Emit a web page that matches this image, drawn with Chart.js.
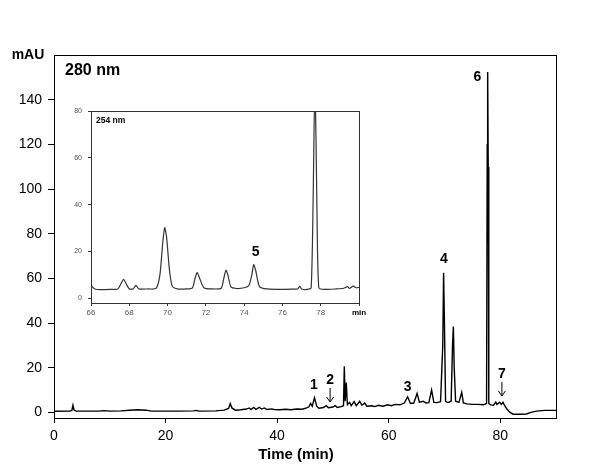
<!DOCTYPE html>
<html>
<head>
<meta charset="utf-8">
<script src="https://cdn.jsdelivr.net/npm/chart.js@4"></script>
<style>
  body { margin: 0; background: #fff; }
  #wrap { position: relative; width: 606px; height: 469px; }
  #inset { position: absolute; left: 60px; top: 95px; }
</style>
</head>
<body>
<div id="wrap">
  <canvas id="main" width="606" height="469"></canvas>
  <canvas id="inset" width="310" height="225"></canvas>
</div>
<script>
/* data */

// 280 nm trace (min, mAU)
var mainTime = [0, 2.8, 3.2, 3.4, 3.6, 4, 8, 9, 10, 12, 13.5, 15, 16.5, 17.5, 22, 25, 25.5, 26, 29, 30.5,
  31.3, 31.6, 31.9, 32.5, 33.5, 34.5, 35, 35.3, 35.8, 36.2, 36.8, 37.2, 37.7, 38.2, 39, 39.5, 40.5, 41.5, 42.5, 43.5,
  44.5, 45.3, 45.7, 46, 46.3, 46.7, 47.1, 47.5, 48.3, 48.8, 49.2, 50, 50.4, 50.8, 51.5, 51.9, 52.05, 52.2, 52.4, 52.6,
  53, 53.3, 53.8, 54.2, 54.8, 55.2, 55.7, 56.1, 57, 57.5, 58.2, 59, 59.8, 60.5, 61.2, 62, 62.8, 63.4, 63.9, 64.5,
  65.1, 65.5, 66.2, 66.7, 67.2, 67.7, 68.1, 68.7, 69.3, 69.7, 69.85, 70, 70.2, 70.6, 71.2, 71.45, 71.6, 71.75, 72, 72.6,
  73.1, 73.4, 74, 75, 76, 77, 77.55, 77.67, 77.75, 77.85, 77.95, 78.3, 78.8, 79.2, 79.4, 79.9, 80.2, 80.5, 80.8, 81.2,
  81.7, 82.3, 83.5, 84.7, 85.5, 86.5, 88, 90];
var mainAbs = [0.5, 0.6, 0.9, 3.2, 1.0, 0.6, 0.6, 0.8, 0.6, 0.7, 1.0, 1.2, 1.0, 0.6, 0.6, 0.7, 0.9, 0.6, 0.7, 1.0,
  1.8, 4.0, 2.0, 1.0, 1.2, 1.5, 2.0, 1.3, 2.2, 1.4, 2.3, 1.5, 2.0, 1.3, 1.6, 1.3, 1.2, 1.4, 1.2, 1.5,
  1.4, 2.0, 2.5, 4.0, 2.8, 6.6, 2.8, 1.9, 2.2, 3.0, 2.1, 2.4, 3.0, 2.2, 2.6, 3.0, 20.7, 5.0, 13.4, 3.5,
  4.5, 3.0, 4.8, 3.0, 5.0, 3.2, 4.2, 2.8, 3.0, 2.6, 3.2, 2.8, 3.4, 3.0, 3.6, 3.4, 4.2, 7.0, 4.0, 4.2,
  8.5, 4.6, 5.0, 4.2, 4.4, 10.0, 4.5, 4.4, 4.8, 30, 62.5, 40, 5, 4.4, 5, 30, 38.5, 20, 5, 4.5,
  9.0, 4.2, 3.8, 3.6, 3.6, 3.4, 4, 120, 152.4, 110, 4, 3.4, 3.2, 4.6, 3.6, 4.6, 3.6, 4.5, 3.0, 1.5,
  0.1, -0.8, -0.8, -0.7, 0.0, 0.6, 0.9, 0.9];

// 254 nm trace, inset (min, mAU)
var insetTime = [66, 66.2, 66.5, 67, 67.4, 67.55, 67.7, 67.85, 68, 68.2, 68.35, 68.5, 69, 69.4, 69.6, 69.75, 69.85, 69.95, 70.1, 70.25,
  70.5, 71, 71.3, 71.45, 71.55, 71.7, 71.9, 72.3, 72.8, 72.95, 73.05, 73.15, 73.3, 73.6, 74, 74.25, 74.4, 74.5, 74.6, 74.8,
  75.2, 76, 76.5, 76.8, 76.9, 77, 77.3, 77.5, 77.6, 77.7, 77.8, 77.9, 78.2, 78.8, 79.2, 79.4, 79.5, 79.7, 79.85, 80];
var insetAbs = [5.5, 4.0, 3.7, 3.8, 4.0, 6.0, 8.1, 6.0, 4.0, 4.0, 5.5, 4.0, 4.0, 4.2, 10, 24, 30.2, 26, 12, 5,
  4.0, 4.0, 4.5, 9, 11, 8, 4.5, 4.0, 4.3, 9, 12, 10, 5, 4.2, 4.5, 5.5, 10, 14.4, 12, 5,
  4.0, 3.8, 3.9, 4.0, 5.1, 4.0, 3.8, 4.5, 40, 95, 40, 4.5, 3.8, 4.0, 4.3, 5.0, 4.2, 5.2, 4.5, 4.7];

var mainTicksX = [0, 20, 40, 60, 80];
var mainTicksY = [0, 20, 40, 60, 80, 100, 120, 140];
var insetTicksX = [66, 68, 70, 72, 74, 76, 78, 80];
var insetTicksY = [0, 20, 40, 60, 80];

// peak numbers: label position (min, mAU), arrow or not
var peakNames = ["1", "2", "3", "4", "6", "7"];
var peakLabelTime = [46.6, 49.5, 63.4, 69.9, 75.9, 80.3];
var peakLabelAbs = [12.3, 14.5, 11.5, 68.7, 150.1, 17.2];
var peakArrow = [false, true, false, false, false, true];

var FONT = "'Liberation Sans', Arial, sans-serif";

const toPoints = (xs, ys) => xs.map((x, i) => ({ x: x, y: ys[i] }));

/* main chart */

const mainDecor = {
  id: "mainDecor",
  afterDraw(chart) {
    const ctx = chart.ctx;
    const a = chart.chartArea;
    const sx = chart.scales.x, sy = chart.scales.y;
    ctx.save();
    ctx.strokeStyle = "#000";
    ctx.lineWidth = 1;
    ctx.strokeRect(Math.round(a.left) + 0.5, Math.round(a.top) + 0.5,
      Math.round(a.right - a.left), Math.round(a.bottom - a.top));

    ctx.fillStyle = "#000";
    ctx.textBaseline = "middle";
    ctx.textAlign = "center";
    ctx.font = "bold 14px " + FONT;
    ctx.fillText("mAU", 28, 55);
    ctx.font = "bold 15px " + FONT;
    ctx.fillText("Time (min)", 296, 455);
    ctx.textAlign = "left";
    ctx.font = "bold 16px " + FONT;
    ctx.fillText("280 nm", 65, 71);

    ctx.textAlign = "center";
    ctx.font = "bold 14px " + FONT;
    peakNames.forEach((name, i) => {
      const x = sx.getPixelForValue(peakLabelTime[i]);
      const y = sy.getPixelForValue(peakLabelAbs[i]);
      ctx.fillText(name, x, y);
      if (peakArrow[i]) {
        const y1 = y + 8, y2 = y + 22;
        ctx.beginPath();
        ctx.moveTo(x, y1);
        ctx.lineTo(x, y2);
        ctx.moveTo(x - 3.5, y2 - 5);
        ctx.lineTo(x, y2);
        ctx.lineTo(x + 3.5, y2 - 5);
        ctx.stroke();
      }
    });
    ctx.restore();
  }
};

new Chart(document.getElementById("main"), {
  type: "line",
  data: {
    datasets: [{
      data: toPoints(mainTime, mainAbs),
      borderColor: "#000",
      borderWidth: 1.4,
      pointRadius: 0,
      tension: 0
    }]
  },
  options: {
    responsive: false,
    devicePixelRatio: 1,
    animation: false,
    events: [],
    layout: { padding: { top: 55, right: 50, left: 0, bottom: 0 } },
    plugins: { legend: { display: false }, tooltip: { enabled: false } },
    scales: {
      x: {
        type: "linear",
        min: 0,
        max: 90,
        afterBuildTicks: (s) => { s.ticks = mainTicksX.map(v => ({ value: v })); },
        afterFit: (s) => { s.height = 51; },
        border: { display: false },
        grid: { drawOnChartArea: false, drawTicks: true, tickLength: 5, color: "#000" },
        ticks: { color: "#000", padding: 5, maxRotation: 0, font: { family: FONT, size: 14 } }
      },
      y: {
        min: -2.5,
        max: 160,
        afterBuildTicks: (s) => { s.ticks = mainTicksY.map(v => ({ value: v })); },
        afterFit: (s) => { s.width = 54; },
        border: { display: false },
        grid: { drawOnChartArea: false, drawTicks: true, tickLength: 6, color: "#000" },
        ticks: { color: "#000", padding: 6, font: { family: FONT, size: 14 } }
      }
    }
  },
  plugins: [mainDecor]
});

/* inset 254 nm */

const insetDecor = {
  id: "insetDecor",
  afterDraw(chart) {
    const ctx = chart.ctx;
    const a = chart.chartArea;
    const sx = chart.scales.x, sy = chart.scales.y;
    ctx.save();
    ctx.strokeStyle = "#333";
    ctx.lineWidth = 1;
    ctx.strokeRect(Math.round(a.left) + 0.5, Math.round(a.top) + 0.5,
      Math.round(a.right - a.left), Math.round(a.bottom - a.top));
    ctx.fillStyle = "#000";
    ctx.textBaseline = "middle";
    ctx.textAlign = "left";
    ctx.font = "bold 8.5px " + FONT;
    ctx.fillText("254 nm", a.left + 5, a.top + 10);
    ctx.textAlign = "center";
    ctx.font = "bold 14px " + FONT;
    ctx.fillText("5", sx.getPixelForValue(74.6), sy.getPixelForValue(19.7));
    ctx.restore();
  }
};

new Chart(document.getElementById("inset"), {
  type: "line",
  data: {
    datasets: [{
      data: toPoints(insetTime, insetAbs),
      borderColor: "#333",
      borderWidth: 1.2,
      pointRadius: 0,
      tension: 0.2
    }]
  },
  options: {
    responsive: false,
    devicePixelRatio: 1,
    animation: false,
    events: [],
    layout: { padding: { top: 16, right: 11, left: 0, bottom: 0 } },
    plugins: { legend: { display: false }, tooltip: { enabled: false } },
    scales: {
      x: {
        type: "linear",
        min: 66,
        max: 80,
        afterBuildTicks: (s) => { s.ticks = insetTicksX.map(v => ({ value: v })); },
        afterFit: (s) => { s.height = 17; },
        border: { display: false },
        grid: { drawOnChartArea: false, drawTicks: true, tickLength: 3, color: "#333" },
        ticks: {
          padding: 2,
          maxRotation: 0,
          color: (c) => c.tick && c.tick.value === 80 ? "#000" : "#555",
          font: (c) => ({ family: FONT, size: 8, weight: c.tick && c.tick.value === 80 ? "bold" : "normal" }),
          callback: (v) => v === 80 ? "min" : v
        }
      },
      y: {
        min: -2,
        max: 80,
        afterBuildTicks: (s) => { s.ticks = insetTicksY.map(v => ({ value: v })); },
        afterFit: (s) => { s.width = 31; },
        border: { display: false },
        grid: { drawOnChartArea: false, drawTicks: true, tickLength: 3, color: "#333" },
        ticks: { color: "#555", padding: 6, font: { family: FONT, size: 7 } }
      }
    }
  },
  plugins: [insetDecor]
});
</script>
</body>
</html>
